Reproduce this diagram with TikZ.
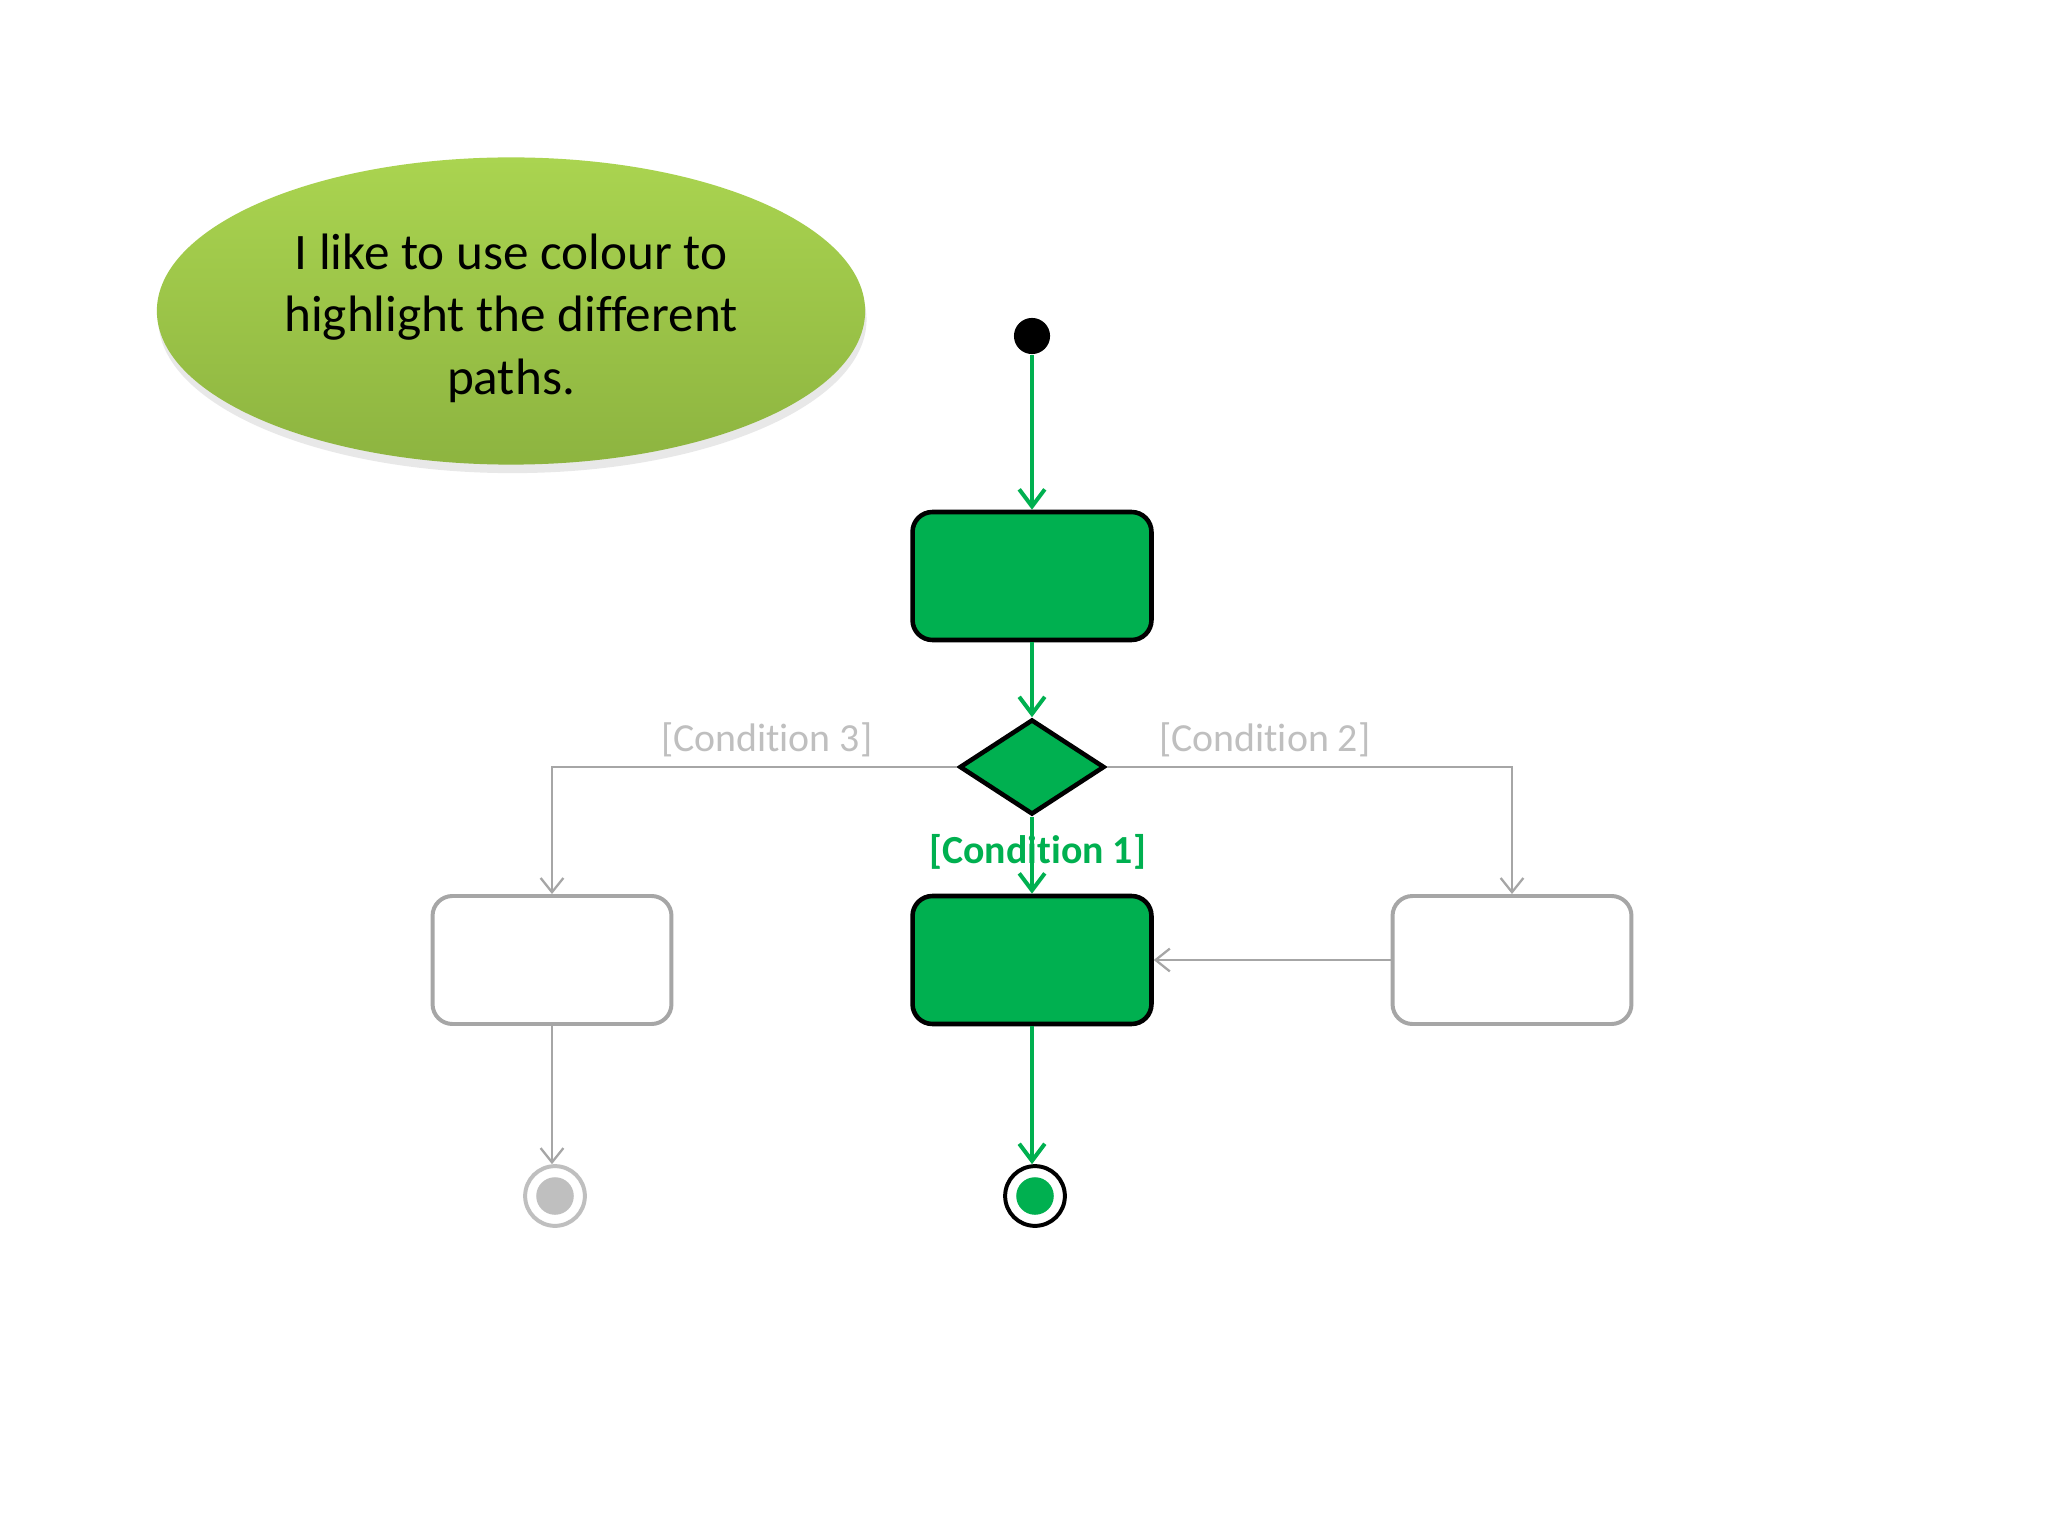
\documentclass[tikz,border=0pt]{standalone}
\usepackage{fontspec}
\setmainfont[RawFeature={-liga;-clig;-calt;-dlig}]{Carlito}
\usetikzlibrary{shapes.geometric,arrows.meta,shadows}
\definecolor{pgreen}{RGB}{0,176,80}
\definecolor{lgray}{RGB}{166,166,166}
\definecolor{tgray}{RGB}{191,191,191}
\definecolor{ctop}{RGB}{170,212,80}
\definecolor{cbot}{RGB}{141,180,64}
\tikzset{
  actgreen/.style={draw=black,line width=1.6pt,fill=pgreen,rounded corners=7pt,minimum width=84pt,minimum height=45pt,inner sep=0pt},
  actgray/.style={draw=lgray,line width=1.4pt,fill=white,rounded corners=7pt,minimum width=84pt,minimum height=45pt,inner sep=0pt},
  gline/.style={draw=pgreen,line width=1.4pt,-{Straight Barb[length=6pt,width=9pt]}},
  gyline/.style={draw=lgray,line width=0.8pt,-{Straight Barb[length=5pt,width=8pt]}},
  glabel/.style={font=\fontsize{14}{17}\selectfont,text=tgray,inner sep=0pt},
}
\begin{document}
\begin{tikzpicture}[x=0.3515625pt,y=-0.3515625pt]
\useasboundingbox[fill=white] (0,0) rectangle (2048,1536);
% note ellipse
\node (note) at (511,311) [ellipse,minimum width=249pt,minimum height=108pt,top color=ctop,bottom color=cbot,
  drop shadow={shadow xshift=0.5pt,shadow yshift=-3pt,opacity=0.18},align=center,
  font=\fontsize{18}{22}\selectfont,inner sep=0pt] {\rule{0pt}{17.5pt}I like to use colour to\\highlight the different\\paths.};
% nodes
\node (start) at (1032,336) [circle,fill=black,minimum size=12.7pt,inner sep=0pt] {};
\node (a1) at (1032,576) [actgreen] {};
\node (dec) at (1032,767) [diamond,draw=black,line width=1.6pt,fill=pgreen,minimum width=51pt,minimum height=33.4pt,inner sep=0pt] {};
\node (a2) at (1032,960) [actgreen] {};
\node (a3) at (552,960) [actgray] {};
\node (a4) at (1512,960) [actgray] {};
\node (endL) at (555,1196) [circle,draw=tgray,line width=1.4pt,fill=white,minimum size=21pt,inner sep=0pt,
  path picture={\fill[tgray] (path picture bounding box.center) circle (6.6pt);}] {};
\node (endC) at (1035,1196) [circle,draw=black,line width=1.4pt,fill=white,minimum size=21pt,inner sep=0pt,
  path picture={\fill[pgreen] (path picture bounding box.center) circle (6.6pt);}] {};
% connectors
\draw[gline] (start) -- (a1.north);
\draw[gline] (a1.south) -- (dec.north);
\draw[gline] (dec.south) -- node[pos=0.45,xshift=2pt,font=\bfseries\fontsize{14}{17}\selectfont,text=pgreen,inner sep=0pt]{[Condition 1]} (a2.north);
\draw[gyline] (dec.west) -- node[pos=0.47,glabel,yshift=9.5pt]{[Condition 3]} (a3.north |- dec.west) -- (a3.north);
\draw[gyline] (dec.east) -- node[pos=0.39,glabel,yshift=9.5pt]{[Condition 2]} (a4.north |- dec.east) -- (a4.north);
\draw[gyline] (a4.west) -- (a2.east);
\draw[gyline] (a3.south) -- (a3.south |- endL.north);
\draw[gline] (a2.south) -- (a2.south |- endC.north);
\end{tikzpicture}
\end{document}
